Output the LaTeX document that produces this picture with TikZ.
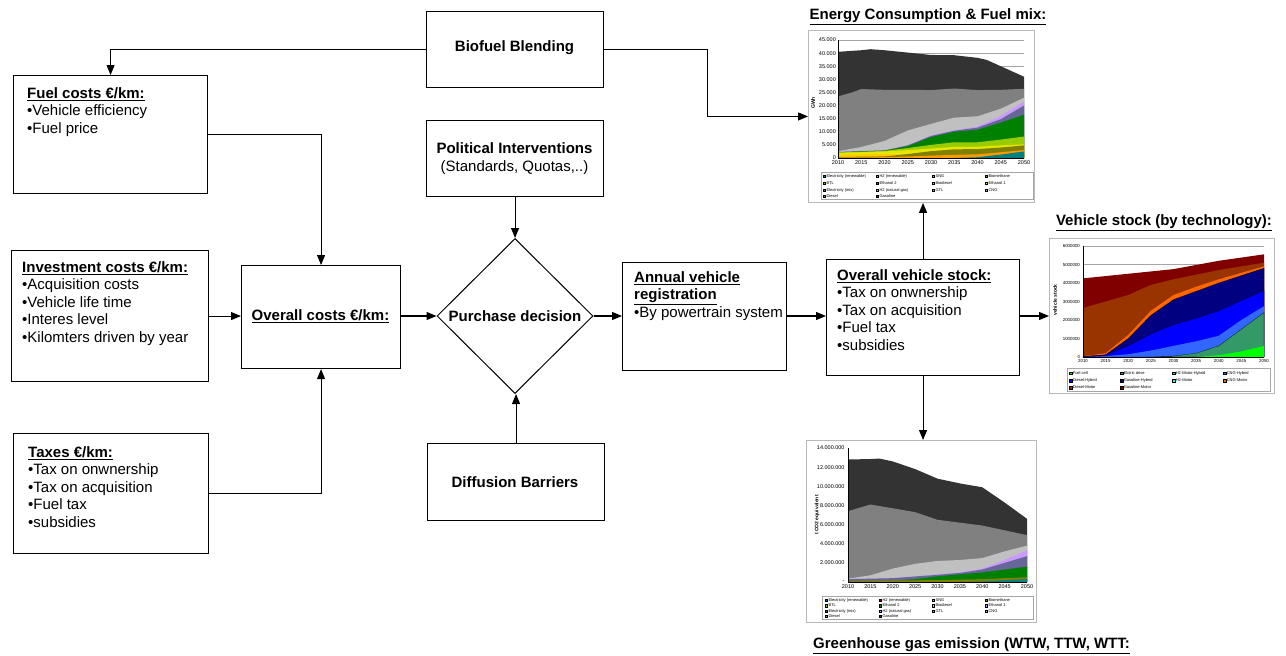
\documentclass[tikz,border=0pt]{standalone}
\usepackage{fontspec}
\setmainfont{Liberation Sans}
\usetikzlibrary{arrows.meta,shapes.geometric}
\definecolor{cGas}{HTML}{333333}
\definecolor{cDie}{HTML}{808080}
\definecolor{cCNG}{HTML}{C0C0C0}
\definecolor{cGTL}{HTML}{A6A6A6}
\definecolor{cH2NG}{HTML}{CC99FF}
\definecolor{cEMix}{HTML}{666699}
\definecolor{cEth2}{HTML}{008000}
\definecolor{cEth1}{HTML}{99CC00}
\definecolor{cYel}{HTML}{E6E600}
\definecolor{cBiod}{HTML}{FFCC00}
\definecolor{cBiom}{HTML}{808000}
\definecolor{cSNG}{HTML}{FF9900}
\definecolor{cERen}{HTML}{008080}
\definecolor{cH2Ren}{HTML}{33CCCC}
\definecolor{cBTL}{HTML}{99CC00}
\definecolor{vGasM}{HTML}{800000}
\definecolor{vDieM}{HTML}{993300}
\definecolor{vCNGM}{HTML}{FF6600}
\definecolor{vGasH}{HTML}{000080}
\definecolor{vDieH}{HTML}{0000FF}
\definecolor{vCNGH}{HTML}{3366FF}
\definecolor{vElec}{HTML}{339966}
\definecolor{vFC}{HTML}{00FF00}
\definecolor{vH2H}{HTML}{33CCCC}
\definecolor{vH2M}{HTML}{00FFFF}
\begin{document}
\begin{tikzpicture}[x=1pt,y=-1pt,
  box/.style={draw, line width=1.1pt, anchor=north west, inner sep=0pt},
  txt/.style={anchor=north west, align=left, inner sep=0pt, font=\fontsize{15}{17.4}\selectfont},
  ctxt/.style={align=center, inner sep=0pt, font=\fontsize{15}{18}\selectfont},
  arr/.style={line width=1.1pt, -{Triangle[length=10pt,width=8pt]}},
  chart/.style={draw=gray!55, line width=0.9pt, fill=white, anchor=north west, inner sep=0pt},
  ctitle/.style={font=\fontsize{15}{17}\selectfont\bfseries, inner sep=0pt},
  tick/.style={font=\fontsize{5.5}{6}\selectfont, inner sep=0.6pt},
  vtick/.style={font=\fontsize{4.4}{5}\selectfont, inner sep=0.6pt},
  legtxt/.style={font=\fontsize{4}{4.5}\selectfont, inner sep=0pt, anchor=west},
  alab/.style={font=\fontsize{5}{6}\selectfont\bfseries, inner sep=0pt, rotate=90},
]
\useasboundingbox (0,0) rectangle (1286,656);
\fill[white] (0,0) rectangle (1286,656);

% ---------- boxes ----------
\node[box, minimum width=177, minimum height=76] (bio) at (426,11) {};
\node[box, minimum width=177, minimum height=76] (pol) at (426,120) {};
\node[box, minimum width=177, minimum height=77] (diff) at (427,443) {};
\node[box, minimum width=194, minimum height=118] (fuel) at (13,75) {};
\node[box, minimum width=197, minimum height=131] (invest) at (11,250) {};
\node[box, minimum width=159, minimum height=103] (costs) at (241,265) {};
\node[box, minimum width=195, minimum height=120] (taxes) at (13,433) {};
\node[box, minimum width=164, minimum height=108] (annual) at (622,262) {};
\node[box, minimum width=193, minimum height=116] (stock) at (826,259) {};
\node[draw, diamond, line width=1pt, minimum width=156, minimum height=155, inner sep=0pt] (dec) at (515,316) {};

% ---------- box texts ----------
\node[ctxt] (tbio) at (514.5,48) {\textbf{Biofuel Blending}};
\node[ctxt] (tpol) at (514.5,159) {\textbf{Political Interventions}\\(Standards, Quotas,..)};
\node[ctxt] (tdiff) at (515,482) {\textbf{Diffusion Barriers}};
\node[ctxt] (tdec) at (515,316) {\textbf{Purchase decision}};
\node[ctxt] (tcosts) at (320.5,316) {\underline{\textbf{Overall costs €/km:}}};
\node[txt] (tfuel) at (27,87.5) {\underline{\textbf{Fuel costs €/km:}}\\•Vehicle efficiency\\•Fuel price};
\node[txt] (tinv) at (22,261.5) {\underline{\textbf{Investment costs €/km:}}\\•Acquisition costs\\•Vehicle life time\\•Interes level\\•Kilomters driven by year};
\node[txt] (ttax) at (28,446.5) {\underline{\textbf{Taxes €/km:}}\\•Tax on onwnership\\•Tax on acquisition\\•Fuel tax\\•subsidies};
\node[txt] (tann) at (634,271.5) {\underline{\textbf{Annual vehicle}}\\\underline{\textbf{registration}}\\•By powertrain system};
\node[txt] (tstock) at (837,269.5) {\underline{\textbf{Overall vehicle stock:}}\\•Tax on onwnership\\•Tax on acquisition\\•Fuel tax\\•subsidies};

% ---------- chart frames ----------
\node[chart, minimum width=226, minimum height=172] (energy) at (808,30) {};
\node[chart, minimum width=225, minimum height=155] (vchart) at (1049,238) {};
\node[chart, minimum width=230, minimum height=182] (ghg) at (806,440) {};

% ---------- chart titles ----------
\node[ctitle] (tien) at (928,17) {\underline{Energy Consumption \& Fuel mix:}};
\node[ctitle] (tiveh) at (1164,223) {\underline{Vehicle stock (by technology):}};
\node[ctitle, anchor=west] (tighg) at (813,646) {\underline{Greenhouse gas emission (WTW, TTW, WTT:}};

% ---------- energy chart ----------
\begin{scope}[shift={(838,158)}, xscale=4.65, yscale=-2.622]
  \foreach \v in {5,10,...,45} \draw[gray!70, line width=0.4pt] (0,\v) -- (40,\v);
  \fill[cGas] (0,0) -- plot coordinates {(0,40.5) (5,41.1) (7,41.5) (10,41.1) (15,40.2) (20,39.3) (25,39.2) (30,38.2) (32,37.4) (35,35) (40,31)} -- (40,0) -- cycle;
  \fill[cDie] (0,0) -- plot coordinates {(0,23.5) (3,25) (5,26.3) (10,26) (15,26) (20,25.9) (25,26.5) (30,25.9) (35,26) (40,26.4)} -- (40,0) -- cycle;
  \fill[cCNG] (0,0) -- plot coordinates {(0,2.6) (5,4.2) (10,6.5) (15,10.5) (20,13) (25,15.4) (30,15.9) (35,18.8) (40,23)} -- (40,0) -- cycle;
  \fill[cH2NG] (0,0) -- plot coordinates {(0,2.3) (10,3) (15,4.9) (20,8.6) (25,10.6) (30,12) (35,16) (40,21.5)} -- (40,0) -- cycle;
  \fill[cEMix] (0,0) -- plot coordinates {(0,2.3) (10,2.9) (15,4.8) (20,8.4) (25,10.4) (30,11.6) (35,14.8) (40,20)} -- (40,0) -- cycle;
  \fill[cEth2] (0,0) -- plot coordinates {(0,2.2) (10,2.8) (15,4.5) (20,8) (25,10) (30,10.8) (35,13.5) (40,16.5)} -- (40,0) -- cycle;
  \fill[cEth1] (0,0) -- plot coordinates {(0,2.1) (10,2.7) (15,3.8) (20,5) (25,6) (30,6) (35,7) (40,8.2)} -- (40,0) -- cycle;
  \fill[cYel] (0,0) -- plot coordinates {(0,2.0) (5,2.2) (10,2.5) (15,3) (20,3.6) (25,4.2) (30,4.3) (35,4.8) (40,5.2)} -- (40,0) -- cycle;
  \fill[cBiod] (0,0) -- plot coordinates {(0,1.3) (10,1.5) (15,1.2) (20,1.2) (40,1.2)} -- (40,0) -- cycle;
  \fill[cBiom] (0,0) -- plot coordinates {(0,0.4) (10,0.6) (15,1.5) (20,2.6) (25,3.3) (30,3.4) (35,4.0) (40,4.8)} -- (40,0) -- cycle;
  \fill[cSNG] (0,0) -- plot coordinates {(0,0.2) (10,0.3) (15,0.6) (20,0.9) (25,1.2) (30,1.4) (35,2.2) (40,3.0)} -- (40,0) -- cycle;
  \fill[cERen] (0,0) -- plot coordinates {(0,0) (25,0) (30,0.3) (35,1.3) (40,2.5)} -- (40,0) -- cycle;
  \draw[line width=0.5pt] (0,45) -- (0,0) -- (40,0);
  \foreach \v/\l [count=\i] in {0/0,5/5.000,10/10.000,15/15.000,20/20.000,25/25.000,30/30.000,35/35.000,40/40.000,45/45.000}
    \node[tick, anchor=east] (ey\i) at (-0.3,\v) {\l};
  \foreach \t [count=\i] in {0,5,...,40} {
    \pgfmathtruncatemacro\yr{2010+\t}
    \node[tick, anchor=north, yshift=-2pt] (ex\i) at (\t,0) {\yr};
  }
\end{scope}
\node[alab] (lgwh) at (813,103) {GWh};
\draw[gray!70, line width=0.4pt] (821,172) rectangle (1033,199);
\foreach \c/\t/\x/\y [count=\i] in {cERen/{Electricity (renewable)}/823/176, cH2Ren/{H2 (renewable)}/876/176, cSNG/{SNG}/932/176, cBiom/{Biomethane}/985/176,
  cBTL/{BTL}/823/183, cEth2/{Ethanol 2}/876/183, cBiod/{Biodiesel}/932/183, cYel/{Ethanol 1}/985/183,
  cEMix/{Electricity (mix)}/823/190, cH2NG/{H2 (natural gas)}/876/190, cGTL/{GTL}/932/190, cCNG/{CNG}/985/190,
  cDie/{Diesel}/823/196, cGas/{Gasoline}/876/196} {
  \fill[\c, draw=black, line width=0.15pt] (\x,\y-1.2) rectangle ++(2.4,2.4);
  \node[legtxt] (el\i) at (\x+3.4,\y) {\t};
}

% ---------- vehicle stock chart ----------
\begin{scope}[shift={(1083,357)}, xscale=4.525, yscale=-18.5]
  \foreach \v in {1,...,6} \draw[gray!70, line width=0.4pt] (0,\v) -- (40,\v);
  \fill[vGasM] (0,0) -- plot coordinates {(0,4.25) (10,4.5) (20,4.75) (30,5.2) (40,5.55)} -- (40,0) -- cycle;
  \fill[vDieM] (0,0) -- plot coordinates {(0,2.65) (5,3.0) (10,3.35) (15,3.9) (20,4.2) (25,4.45) (30,4.7) (35,4.9) (40,5.1)} -- (40,0) -- cycle;
  \fill[vCNGM] (0,0) -- plot coordinates {(0,0.05) (5,0.2) (10,1.2) (15,2.5) (20,3.35) (25,3.8) (30,4.2) (35,4.55) (40,4.9)} -- (40,0) -- cycle;
  \fill[vGasH, draw=black, line width=0.2pt] (0,0) -- plot coordinates {(0,0.03) (5,0.12) (10,1.0) (15,2.25) (20,3.1) (25,3.55) (30,4.0) (35,4.4) (40,4.8)} -- (40,0) -- cycle;
  \fill[vDieH, draw=black, line width=0.2pt] (0,0) -- plot coordinates {(0,0.02) (5,0.1) (10,0.6) (15,1.25) (20,1.75) (25,2.1) (30,2.5) (35,3.05) (40,3.6)} -- (40,0) -- cycle;
  \fill[vCNGH] (0,0) -- plot coordinates {(0,0) (5,0.05) (10,0.15) (15,0.35) (20,0.6) (25,0.85) (30,1.15) (35,2.0) (40,2.75)} -- (40,0) -- cycle;
  \fill[vElec, draw=black, line width=0.2pt] (0,0) -- plot coordinates {(0,0) (15,0) (20,0.05) (25,0.2) (30,0.6) (35,1.5) (40,2.4)} -- (40,0) -- cycle;
  \fill[vFC] (0,0) -- plot coordinates {(0,0) (25,0) (30,0.1) (35,0.3) (40,0.6)} -- (40,0) -- cycle;
  \draw[line width=0.5pt] (0,6) -- (0,0) -- (40,0);
  \foreach \v [count=\i] in {0,1000000,2000000,3000000,4000000,5000000,6000000}
    \node[vtick, anchor=east] (vy\i) at (-0.5,\i-1) {\v};
  \foreach \t [count=\i] in {0,5,...,40} {
    \pgfmathtruncatemacro\yr{2010+\t}
    \node[vtick, anchor=north, yshift=-2pt] (vx\i) at (\t,0) {\yr};
  }
\end{scope}
\node[alab] (lveh) at (1055,300) {vehicle stock};
\draw[gray!70, line width=0.4pt] (1067,368) rectangle (1270,391);
\foreach \c/\t/\x/\y [count=\i] in {vFC/{Fuel cell}/1069/373, vElec/{Elctric drive}/1120/373, vH2H/{H2-Motor-Hybrid}/1172/373, vCNGH/{CNG-Hybrid}/1223/373,
  vDieH/{Diesel-Hybrid}/1069/380.5, vGasH/{Gasoline-Hybrid}/1120/380.5, vH2M/{H2-Motor}/1172/380.5, vCNGM/{CNG-Motor}/1223/380.5,
  vDieM/{Diesel-Motor}/1069/387.5, vGasM/{Gasoline-Motor}/1120/387.5} {
  \fill[\c, draw=black, line width=0.15pt] (\x,\y-1.3) rectangle ++(2.6,2.6);
  \node[legtxt] (vl\i) at (\x+3.6,\y) {\t};
}

% ---------- GHG chart ----------
\begin{scope}[shift={(848,582)}, xscale=4.475, yscale=-9.57]
  \fill[cGas] (0,0) -- plot coordinates {(0,12.8) (5,12.85) (7,12.9) (10,12.6) (15,11.8) (20,10.8) (25,10.3) (30,9.9) (35,8.3) (40,6.6)} -- (40,0) -- cycle;
  \fill[cDie] (0,0) -- plot coordinates {(0,7.4) (5,8.1) (10,7.7) (15,7.3) (20,6.5) (25,6.2) (30,5.9) (35,5.4) (40,4.9)} -- (40,0) -- cycle;
  \fill[cCNG] (0,0) -- plot coordinates {(0,0.35) (5,0.7) (10,1.4) (15,1.9) (20,2.2) (25,2.3) (30,2.5) (35,3.2) (40,3.8)} -- (40,0) -- cycle;
  \fill[cH2NG] (0,0) -- plot coordinates {(0,0.3) (10,0.4) (20,0.8) (25,1.0) (30,1.4) (35,2.3) (40,3.3)} -- (40,0) -- cycle;
  \fill[cEMix] (0,0) -- plot coordinates {(0,0.3) (10,0.4) (20,0.75) (25,0.95) (30,1.3) (35,2.0) (40,2.7)} -- (40,0) -- cycle;
  \fill[cEth2] (0,0) -- plot coordinates {(0,0.05) (10,0.1) (15,0.3) (20,0.6) (25,0.8) (30,1.0) (35,1.3) (40,1.6)} -- (40,0) -- cycle;
  \fill[cBiom] (0,0) -- plot coordinates {(0,0.12) (20,0.2) (30,0.3) (40,0.5)} -- (40,0) -- cycle;
  \fill[cERen] (0,0) -- plot coordinates {(0,0) (25,0) (30,0.05) (40,0.3)} -- (40,0) -- cycle;
  \draw[line width=0.5pt] (0,14) -- (0,0) -- (40,0);
  \foreach \v/\l [count=\i] in {0/-,2/2.000.000,4/4.000.000,6/6.000.000,8/8.000.000,10/10.000.000,12/12.000.000,14/14.000.000}
    \node[tick, anchor=east] (gy\i) at (-0.6,\v) {\l};
  \foreach \t [count=\i] in {0,5,...,40} {
    \pgfmathtruncatemacro\yr{2010+\t}
    \node[tick, anchor=north, yshift=-2pt] (gx\i) at (\t,0) {\yr};
  }
\end{scope}
\node[alab] (lghg) at (817,515) {t CO2 equivalent};
\draw[gray!70, line width=0.4pt] (822,596) rectangle (1033,619);
\foreach \c/\t/\x/\y [count=\i] in {cERen/{Electricity (renewable)}/825/600, vGasM/{H2 (renewable)}/879/600, cSNG/{SNG}/932/600, cBiom/{Biomethane}/985/600,
  cBTL/{BTL}/825/605.5, cEth2/{Ethanol 2}/879/605.5, cBiod/{Biodiesel}/932/605.5, cH2NG/{Ethanol 1}/985/605.5,
  cEMix/{Electricity (mix)}/825/611, cH2NG/{H2 (natural gas)}/879/611, cGTL/{GTL}/932/611, cCNG/{CNG}/985/611,
  cDie/{Diesel}/825/616, cGas/{Gasoline}/879/616} {
  \fill[\c, draw=black, line width=0.15pt] (\x,\y-1.2) rectangle ++(2.4,2.4);
  \node[legtxt] (gl\i) at (\x+3.4,\y) {\t};
}

% ---------- connectors ----------
\draw[arr] (bio.west) -| (fuel.north);
\draw[arr] (bio.east) -- ++(103,0) |- (energy.west);
\draw[arr] (fuel.east) -| (costs.north);
\draw[arr] (invest.east) -- (invest.east -| costs.west);
\draw[arr] (taxes.east) -| (costs.south);
\draw[arr] (costs.east |- dec.west) -- (dec.west);
\draw[arr] (pol.south) -- (pol.south |- dec.north);
\draw[arr] (diff.north) -- (diff.north |- dec.south);
\draw[arr] (dec.east) -- (dec.east -| annual.west);
\draw[arr] (annual.east |- dec.east) -- (annual.east |- dec.east -| stock.west);
\draw[arr] (stock.east |- dec.east) -- (stock.east |- dec.east -| vchart.west);
\draw[arr] (stock.north) -- (stock.north |- energy.south);
\draw[arr] (stock.south) -- (stock.south |- ghg.north);
\end{tikzpicture}
\end{document}
